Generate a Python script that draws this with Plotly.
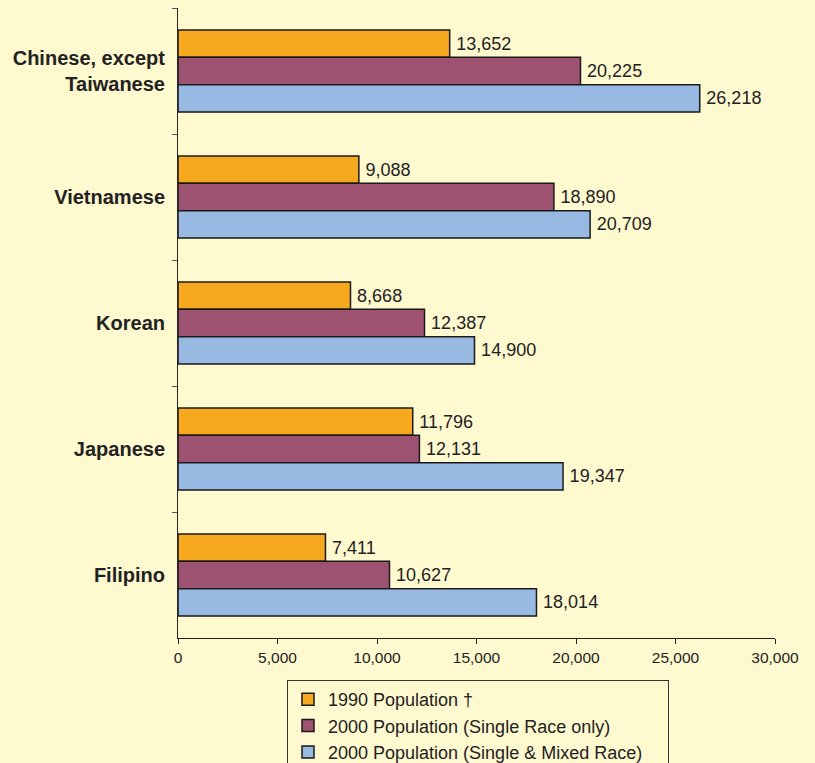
import plotly.graph_objects as go

categories = ["Chinese, except<br>Taiwanese", "Vietnamese", "Korean", "Japanese", "Filipino"]
series_names = ["1990 Population †", "2000 Population (Single Race only)",
                "2000 Population (Single & Mixed Race)\u00a0\u00a0\u00a0\u00a0"]
pop_1990 = [13652, 9088, 8668, 11796, 7411]
pop_2000_single = [20225, 18890, 12387, 12131, 10627]
pop_2000_mixed = [26218, 20709, 14900, 19347, 18014]
x_ticks = [0, 5000, 10000, 15000, 20000, 25000, 30000]
colors = ["#F6A81F", "#9E5272", "#97B9E2"]

fig = go.Figure()
for name, vals, col in zip(series_names, [pop_1990, pop_2000_single, pop_2000_mixed], colors):
    fig.add_trace(go.Bar(
        y=categories, x=vals, name=name, orientation="h",
        marker=dict(color=col, line=dict(color="#1a1a1a", width=1.5)),
        text=["\u2009" + f"{v:,}" for v in vals], textposition="outside",
        textfont=dict(family="Liberation Sans, Arial", size=18, color="#222222"),
        cliponaxis=False,
    ))

bg = "#FFF9D0"
fig.update_layout(
    barmode="group", bargap=0.35, bargroupgap=0,
    paper_bgcolor=bg, plot_bgcolor=bg,
    width=815, height=763,
    margin=dict(l=178, r=40, t=8, b=125, autoexpand=False),
    font=dict(family="Liberation Sans, Arial", size=15, color="#222222"),
    showlegend=True,
    legend=dict(
        x=287 / 815, y=1 - 680 / 763, xref="container", yref="container",
        xanchor="left", yanchor="top",
        bgcolor=bg, bordercolor="#333333", borderwidth=1,
        font=dict(size=18, color="#222222"),
        itemwidth=30, tracegroupgap=0,
    ),
    xaxis=dict(
        range=[0, 30000], tickvals=x_ticks, tickformat=",",
        showline=True, linecolor="#222222", linewidth=1,
        ticks="outside", ticklen=5, tickcolor="#222222",
        showgrid=False, zeroline=False, automargin=False,
        tickfont=dict(size=15.5, color="#222222"),
    ),
    yaxis=dict(
        autorange="reversed",
        showline=True, linecolor="#222222", linewidth=1,
        ticks="outside", ticklen=5, tickcolor="#555555", tickson="boundaries",
        showgrid=False, automargin=False,
        tickfont=dict(size=20, color="#222222", weight="bold"),
        ticklabelstandoff=8,
    ),
)

fig.write_html(
    "out.html",
    default_width="815px", default_height="763px",
    config={"displayModeBar": False},
    post_script="document.body.style.margin='0';document.body.style.background='#FFF9D0';document.body.style.overflow='hidden';",
)
